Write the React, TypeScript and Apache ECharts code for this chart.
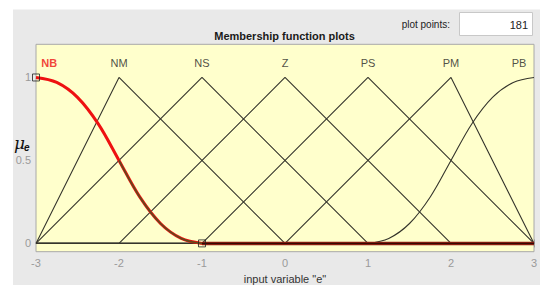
import React, { useEffect, useRef } from "react";
import * as echarts from "echarts";

// x tick values
const xTicks = [-3, -2, -1, 0, 1, 2, 3];
const yTicks = [0, 0.5, 1];

// triangular membership functions: [x, y] points over the full range
const NM = [[-3, 0], [-2, 1], [0, 0], [3, 0]];
const NS = [[-3, 0], [-1, 1], [1, 0], [3, 0]];
const Z = [[-3, 0], [-2, 0], [0, 1], [2, 0], [3, 0]];
const PS = [[-3, 0], [-1, 0], [1, 1], [3, 0]];
const PM = [[-3, 0], [0, 0], [2, 1], [3, 0]];

// NB (z-shaped)
const nbX = [-3, -2.75, -2.5, -2.25, -2, -1.75, -1.5, -1.25, -1];
const nbY = [1, 0.97, 0.88, 0.72, 0.5, 0.28, 0.12, 0.03, 0];
// PB (s-shaped)
const pbX = [1, 1.25, 1.5, 1.75, 2, 2.25, 2.5, 2.75, 3];
const pbY = [0, 0.03, 0.12, 0.28, 0.5, 0.72, 0.88, 0.97, 1];

// MF labels
const mfNames = ["NB", "NM", "NS", "Z", "PS", "PM", "PB"];
const mfLabelX = [-2.84, -2, -1, 0, 1, 2, 2.82];
const mfLabelY = 1.09;

const FONT = "'Liberation Sans', Arial, Helvetica, sans-serif";

export default function App() {
  const ref = useRef<HTMLDivElement>(null);
  useEffect(() => {
    if (!ref.current) return;
    const chart = echarts.init(ref.current, undefined, { renderer: "svg" });
    const nbPts = nbX.map((x, i) => [x, nbY[i]]);
    const nbLower = nbPts.filter((p) => p[0] >= -2);
    const pbPts = pbX.map((x, i) => [x, pbY[i]]);
    const thin = (name: string, data: number[][]) => ({
      type: "line",
      name,
      data,
      symbol: "none",
      lineStyle: { color: "#35352c", width: 1.1 },
      z: 2,
    });
    const labelData = mfNames.map((n, i) =>
      i === 0
        ? { name: n, value: [mfLabelX[i], mfLabelY], label: { color: "#ee1111", fontWeight: "bold" } }
        : { name: n, value: [mfLabelX[i], mfLabelY] }
    );
    chart.setOption({
      animation: false,
      backgroundColor: "#ffffff",
      textStyle: { fontFamily: FONT },
      grid: {
        left: 36,
        top: 44.3,
        width: 498,
        height: 207.4,
        show: true,
        backgroundColor: "#ffffcc",
        borderColor: "#a8a8a8",
        borderWidth: 1,
        z: 1,
      },
      xAxis: [
        {
          type: "value",
          min: -3,
          max: 3,
          interval: 1,
          axisLine: { show: false },
          splitLine: { show: false },
          axisTick: { show: true, inside: true, length: 4, lineStyle: { color: "#999" } },
          axisLabel: {
            color: "#9a9a9a",
            fontSize: 11,
            margin: 6,
            fontFamily: FONT,
            customValues: xTicks,
          },
          name: 'input variable "e"',
          nameLocation: "middle",
          nameGap: 18,
          nameTextStyle: { color: "#333", fontSize: 11, fontFamily: FONT },
        },
        {
          type: "value",
          position: "top",
          min: -3,
          max: 3,
          interval: 1,
          axisLine: { show: false },
          splitLine: { show: false },
          axisTick: { show: true, inside: true, length: 4, lineStyle: { color: "#999" } },
          axisLabel: { show: false },
        },
      ],
      yAxis: [
        {
          type: "value",
          min: -0.05,
          max: 1.2,
          axisLine: { show: false },
          splitLine: { show: false },
          axisTick: {
            show: true,
            inside: true,
            length: 4,
            lineStyle: { color: "#999" },
            customValues: yTicks,
          },
          axisLabel: {
            color: "#9a9a9a",
            fontSize: 11,
            margin: 5,
            fontFamily: FONT,
            customValues: yTicks,
            formatter: (v: number) => String(v),
          },
        },
        {
          type: "value",
          position: "right",
          min: -0.05,
          max: 1.2,
          axisLine: { show: false },
          splitLine: { show: false },
          axisTick: {
            show: true,
            inside: true,
            length: 4,
            lineStyle: { color: "#999" },
            customValues: yTicks,
          },
          axisLabel: { show: false },
        },
      ],
      series: [
        thin("NM", NM),
        thin("NS", NS),
        thin("Z", Z),
        thin("PS", PS),
        thin("PM", PM),
        thin("PB zero", [[-3, 0], [1, 0]]),
        {
          type: "line",
          name: "PB",
          data: pbPts,
          symbol: "none",
          smooth: 0.35,
          lineStyle: { color: "#35352c", width: 1.1 },
          z: 2,
        },
        {
          type: "line",
          name: "NB",
          data: nbPts,
          symbol: "none",
          smooth: 0.35,
          lineStyle: { color: "#ee1111", width: 3 },
          z: 3,
        },
        {
          type: "line",
          name: "NB lower",
          data: nbLower,
          symbol: "none",
          smooth: 0.35,
          lineStyle: { color: "#5e4a1c", width: 1.6 },
          z: 4,
        },
        {
          type: "line",
          name: "NB zero",
          data: [[-1, 0], [3, 0]],
          symbol: "none",
          lineStyle: { color: "#8a1c10", width: 3.5 },
          z: 4,
        },
        {
          type: "line",
          name: "NB zero core",
          data: [[-1, 0], [3, 0]],
          symbol: "none",
          lineStyle: { color: "#2a0a04", width: 1 },
          z: 5,
        },
        {
          type: "scatter",
          name: "handles",
          data: [nbPts[0], nbPts[nbPts.length - 1]],
          symbol: "rect",
          symbolSize: 7,
          itemStyle: { color: "rgba(0,0,0,0)", borderColor: "#222", borderWidth: 1 },
          z: 6,
        },
        {
          type: "scatter",
          name: "labels",
          data: labelData,
          symbolSize: 0,
          silent: true,
          label: {
            show: true,
            position: "inside",
            formatter: (p: any) => p.name,
            fontFamily: FONT,
            fontSize: 11,
            color: "#222",
          },
          z: 6,
        },
      ],
      graphic: [
        {
          type: "rect",
          z: -10,
          shape: { x: 13, y: 9.5, width: 527, height: 275.5 },
          style: { fill: "#e9e9e9" },
          silent: true,
        },
        {
          type: "text",
          x: 284.5,
          y: 36,
          style: {
            text: "Membership function plots",
            fontFamily: FONT,
            fontSize: 11,
            fontWeight: "bold",
            fill: "#1a1a1a",
            align: "center",
            verticalAlign: "middle",
          },
        },
        {
          type: "text",
          x: 450,
          y: 24,
          style: {
            text: "plot points:",
            fontFamily: FONT,
            fontSize: 10,
            fill: "#222",
            align: "right",
            verticalAlign: "middle",
          },
        },
        {
          type: "rect",
          shape: { x: 459.5, y: 12.5, width: 73, height: 23 },
          style: { fill: "#ffffff", stroke: "#c8c8c8", lineWidth: 1 },
        },
        {
          type: "text",
          x: 528,
          y: 24.5,
          style: {
            text: "181",
            fontFamily: FONT,
            fontSize: 11,
            fill: "#222",
            align: "right",
            verticalAlign: "middle",
          },
        },
        {
          type: "text",
          x: 14,
          y: 143,
          style: {
            text: "μ",
            fontFamily: "'DejaVu Serif', serif",
            fontStyle: "italic",
            fontSize: 17,
            fill: "#111",
            align: "left",
            verticalAlign: "middle",
          },
        },
        {
          type: "text",
          x: 24,
          y: 147,
          style: {
            text: "e",
            fontFamily: FONT,
            fontStyle: "italic",
            fontWeight: "bold",
            fontSize: 10,
            fill: "#111",
            align: "left",
            verticalAlign: "middle",
          },
        },
      ],
    });
    return () => chart.dispose();
  }, []);
  return (
    <div
      ref={ref}
      style={{ position: "fixed", left: 0, top: 0, width: 550, height: 294 }}
    />
  );
}
